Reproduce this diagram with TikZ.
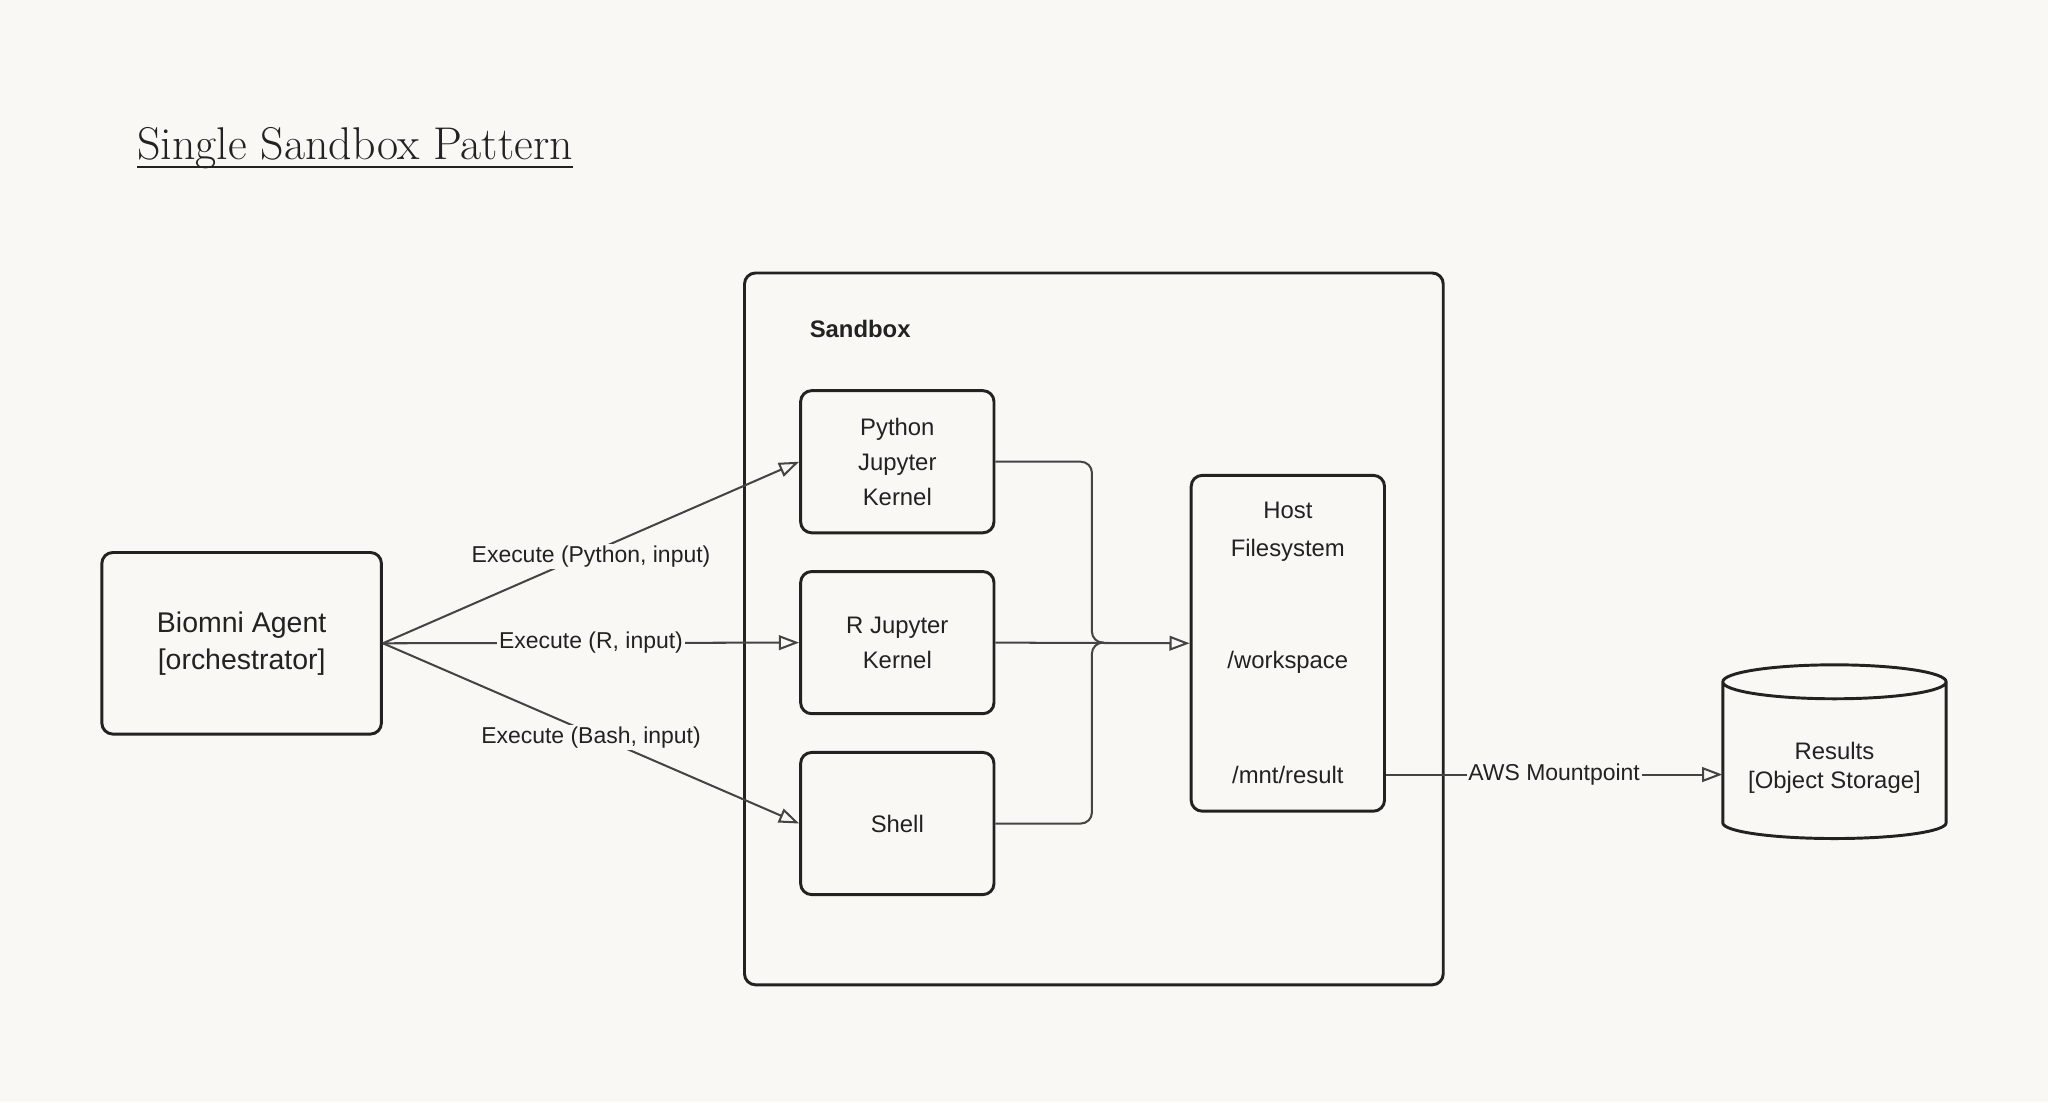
\documentclass[tikz,border=0pt]{standalone}
\usepackage{fontspec}
\setsansfont{Liberation Sans}
\usetikzlibrary{arrows.meta,positioning}
\definecolor{paper}{HTML}{F9F8F4}
\definecolor{ink}{HTML}{222222}
\definecolor{wire}{HTML}{444444}
\begin{document}
\begin{tikzpicture}
  [x=0.025cm, y=-0.025cm, font=\sffamily\fontsize{13}{19}\selectfont, text=ink]
  \tikzset{
    box/.style = {draw=ink, line width=1.6pt, rounded corners=6pt, align=center},
    kernel/.style = {box, minimum width=3.7cm, minimum height=2.72cm},
    flow/.style = {draw=wire, line width=1.1pt, -{Triangle[open, length=11pt, width=8pt]}},
    tag/.style = {fill=paper, inner sep=1pt, font=\sffamily\fontsize{12.5}{15}\selectfont},
  }

  % page
  \fill[paper] (0,0) rectangle (1568,844);
  \useasboundingbox (0,0) rectangle (1568,844);

  \node[anchor=base west, font=\fontsize{25}{28}\selectfont, inner sep=0pt] (title) at (105,122) {Single Sandbox Pattern};
  \draw[ink, line width=1pt] (105,128) -- (title.east |- 0,128);

  % sandbox
  \draw[box] (570,209) rectangle (1105,754);
  \node[anchor=west, font=\sffamily\bfseries\fontsize{13}{15}\selectfont] (sbx) at (615,252) {Sandbox};

  \node[kernel] (py) at (687,353.5) {Python\\Jupyter\\Kernel};
  \node[kernel] (rk) at (687,492) {R Jupyter\\Kernel};
  \node[kernel] (sh) at (687,630.5) {Shell};

  \node[box, minimum width=3.7cm, minimum height=6.425cm] (host) at (986,492.5) {};
  \node[align=center, font=\sffamily\fontsize{13}{20.5}\selectfont] (hosta) at (986,407) {Host\\Filesystem};
  \node (wsp) at (986,507) {/workspace};
  \node (mnt) at (986,593) {/mnt/result};

  % agent
  \node[box, minimum width=5.35cm, minimum height=3.475cm, font=\sffamily\fontsize{15.5}{20}\selectfont] (agent) at (185,492.5) {Biomni Agent\\{[orchestrator]}};

  % results store
  \node[minimum width=4.275cm, minimum height=2.7cm, align=center] (res) at (1404.5,588) {Results\\[-3pt]{[Object Storage]}};
  \draw[ink, line width=1.6pt] (1319,522) arc[start angle=180, end angle=360, x radius=85.5, y radius=-13]
    arc[start angle=0, end angle=180, x radius=85.5, y radius=-13]
    -- (1319,630) arc[start angle=180, end angle=360, x radius=85.5, y radius=-12] -- (1490,522);

  % calls
  \draw[flow] (agent.east) -- node[tag, pos=0.5, yshift=-2pt]{Execute (Python, input)} (py.west);
  \draw[flow] (agent.east) -- node[tag, pos=0.5]{Execute (R, input)} (rk.west);
  \draw[flow] (agent.east) -- node[tag, pos=0.5, yshift=-2pt]{Execute (Bash, input)} (sh.west);

  % to the filesystem
  \draw[wire, line width=1.1pt, rounded corners=6pt] (py.east) -| (836,492) -- (845,492);
  \draw[wire, line width=1.1pt, rounded corners=6pt] (sh.east) -| (836,492) -- (845,492);
  \draw[flow] (rk.east) -- (host.west);

  \draw[flow] (mnt.east -| host.east) -- node[tag]{AWS Mountpoint} (mnt.east -| res.west);
\end{tikzpicture}
\end{document}
